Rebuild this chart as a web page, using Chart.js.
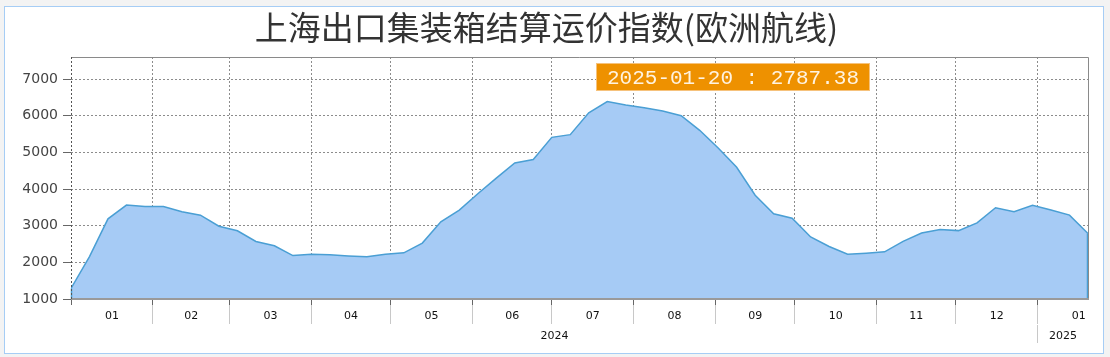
<!DOCTYPE html>
<html>
<head>
<meta charset="utf-8">
<script src="https://cdn.jsdelivr.net/npm/chart.js@4.4.1/dist/chart.umd.min.js"></script>
<style>
    body { margin: 0; background: #f3f3f3; }
    #caja {
        position: absolute; left: 4px; top: 6px;
        width: 1098px; height: 346px;
        border: 1px solid #a6cdf5; background: #fff;
    }
</style>
</head>
<body>
<div id="caja"><canvas id="grafico"></canvas></div>
<script>
// Datos semanales (lunes)
const fechas = [
    '2024-01-01', '2024-01-08', '2024-01-15', '2024-01-22', '2024-01-29',
    '2024-02-05', '2024-02-12', '2024-02-19', '2024-02-26',
    '2024-03-04', '2024-03-11', '2024-03-18', '2024-03-25',
    '2024-04-01', '2024-04-08', '2024-04-15', '2024-04-22', '2024-04-29',
    '2024-05-06', '2024-05-13', '2024-05-20', '2024-05-27',
    '2024-06-03', '2024-06-10', '2024-06-17', '2024-06-24',
    '2024-07-01', '2024-07-08', '2024-07-15', '2024-07-22', '2024-07-29',
    '2024-08-05', '2024-08-12', '2024-08-19', '2024-08-26',
    '2024-09-02', '2024-09-09', '2024-09-16', '2024-09-23', '2024-09-30',
    '2024-10-07', '2024-10-14', '2024-10-21', '2024-10-28',
    '2024-11-04', '2024-11-11', '2024-11-18', '2024-11-25',
    '2024-12-02', '2024-12-09', '2024-12-16', '2024-12-23', '2024-12-30',
    '2025-01-06', '2025-01-13', '2025-01-20'
];
const indice = [
    1287, 2157, 3187, 3562, 3526,
    3520, 3380, 3287, 2984,
    2860, 2570, 2452, 2185,
    2223, 2205, 2175, 2150, 2220,
    2260, 2526, 3105, 3425,
    3870, 4298, 4711, 4802,
    5408, 5482, 6080, 6383, 6290,
    6218, 6125, 6000, 5600,
    5116, 4592, 3830, 3325, 3204,
    2691, 2433, 2223, 2250,
    2287, 2570, 2800, 2893,
    2865, 3077, 3490, 3380, 3554,
    3425, 3287, 2787.38
];
const inicioMeses = [
    '2024-01-01', '2024-02-01', '2024-03-01', '2024-04-01', '2024-05-01', '2024-06-01',
    '2024-07-01', '2024-08-01', '2024-09-01', '2024-10-01', '2024-11-01', '2024-12-01',
    '2025-01-01', '2025-02-01'
];
const etiquetasMes = ['01', '02', '03', '04', '05', '06', '07', '08', '09', '10', '11', '12', '01'];
const etiquetasAnio = ['2024', '2025'];
const ticksY = [1000, 2000, 3000, 4000, 5000, 6000, 7000];
const titulo = '上海出口集装箱结算运价指数(欧洲航线)';

// días desde el 1 de enero de 2024
function dia(f) {
    const [a, m, d] = f.split('-').map(Number);
    return (Date.UTC(a, m - 1, d) - Date.UTC(2024, 0, 1)) / 86400000;
}

const puntos = fechas.map((f, i) => ({ x: dia(f), y: indice[i] }));
const diaFin = dia(fechas[fechas.length - 1]);
const diasMes = inicioMeses.map(dia);
const finDeAnio = dia('2025-01-01');

const ultimoTexto = `${fechas[fechas.length - 1]} : ${indice[indice.length - 1]}`;

// --- plugins ---
const bordes = {
    id: 'bordes',
    afterDatasetsDraw(chart) {
        const { ctx, chartArea: a } = chart;
        const meta = chart.getDatasetMeta(0);
        const p0 = meta.data[0], pN = meta.data[meta.data.length - 1];
        ctx.save();
        // lados verticales del área rellena
        ctx.strokeStyle = '#4a9fd4';
        ctx.lineWidth = 1.5;
        ctx.beginPath();
        ctx.moveTo(p0.x + 0.5, p0.y); ctx.lineTo(p0.x + 0.5, a.bottom);
        ctx.moveTo(pN.x - 0.5, pN.y); ctx.lineTo(pN.x - 0.5, a.bottom);
        ctx.stroke();
        // marco
        ctx.lineWidth = 1;
        ctx.strokeStyle = '#8a8a8a';
        ctx.beginPath();
        ctx.moveTo(a.left, a.top + 0.5); ctx.lineTo(a.right + 0.5, a.top + 0.5);
        ctx.lineTo(a.right + 0.5, a.bottom);
        ctx.stroke();
        ctx.strokeStyle = '#9a9a9a';
        ctx.lineWidth = 2;
        ctx.beginPath();
        ctx.moveTo(a.left, a.bottom); ctx.lineTo(a.right + 1, a.bottom);
        ctx.stroke();
        ctx.strokeStyle = '#555';
        ctx.lineWidth = 1;
        ctx.setLineDash([2, 2]);
        ctx.beginPath();
        ctx.moveTo(a.left + 0.5, a.top); ctx.lineTo(a.left + 0.5, a.bottom);
        ctx.stroke();
        ctx.restore();
    }
};

const etiqueta = {
    id: 'etiqueta',
    afterDraw(chart) {
        const { ctx, chartArea: a } = chart;
        const x = a.left + 525, y = a.top + 6, w = 274, h = 28;
        ctx.save();
        ctx.fillStyle = '#ee9100';
        ctx.fillRect(x, y, w, h);
        ctx.strokeStyle = '#f6c27c';
        ctx.strokeRect(x + 0.5, y + 0.5, w - 1, h - 1);
        ctx.fillStyle = '#fff3e0';
        ctx.font = '21px "Liberation Mono"';
        ctx.textAlign = 'center';
        ctx.textBaseline = 'middle';
        ctx.fillText(ultimoTexto, x + w / 2, y + h / 2 + 1);
        ctx.restore();
    }
};

const ctx = document.getElementById('grafico').getContext('2d');
new Chart(ctx, {
    type: 'line',
    data: {
        datasets: [{
            data: puntos,
            borderColor: '#4a9fd4',
            borderWidth: 1.5,
            backgroundColor: '#a6cbf5',
            fill: 'start',
            pointRadius: 0,
            tension: 0
        }]
    },
    options: {
        responsive: true,
        maintainAspectRatio: false,
        animation: false,
        layout: { padding: { left: 0, right: 15, top: 0, bottom: 6 } },
        plugins: {
            legend: { display: false },
            tooltip: { enabled: false },
            title: {
                display: true,
                text: titulo,
                color: '#333',
                font: { family: '"Noto Sans CJK SC"', size: 33, weight: 'normal', lineHeight: 1 },
                padding: { top: 4, bottom: 13 }
            }
        },
        scales: {
            x: {
                type: 'linear',
                position: 'bottom',
                min: 0,
                max: diaFin,
                afterBuildTicks: s => { s.ticks = diasMes.filter(d => d <= diaFin).map(v => ({ value: v })); },
                afterFit: s => { s.height = 6; },
                grid: {
                    color: '#8c8c8c',
                    tickColor: '#666',
                    tickBorderDash: [],
                    tickLength: 6
                },
                border: { display: false, dash: [2, 2] },
                ticks: { display: false }
            },
            xm: {
                type: 'linear',
                position: 'bottom',
                min: 0,
                max: diaFin,
                afterBuildTicks: s => {
                    const t = [];
                    diasMes.forEach((d, i) => {
                        if (d > 0 && d <= diaFin) t.push({ value: d, sep: true, txt: '' });
                        if (i < etiquetasMes.length) t.push({ value: (d + diasMes[i + 1]) / 2, txt: etiquetasMes[i] });
                    });
                    s.ticks = t;
                },
                afterFit: s => { s.height = 20; },
                grid: {
                    drawOnChartArea: false,
                    tickLength: 19,
                    color: c => (c.tick && c.tick.sep) ? '#c8c8c8' : 'rgba(0,0,0,0)'
                },
                border: { display: false },
                ticks: {
                    autoSkip: false,
                    maxRotation: 0,
                    padding: -14,
                    color: '#111',
                    font: { family: '"DejaVu Sans"', size: 11 },
                    callback: (v, i, t) => t[i].txt
                }
            },
            xy: {
                type: 'linear',
                position: 'bottom',
                min: 0,
                max: diaFin,
                afterBuildTicks: s => {
                    s.ticks = [
                        { value: finDeAnio / 2, txt: etiquetasAnio[0] },
                        { value: finDeAnio, sep: true, txt: '' },
                        { value: (finDeAnio + diaFin) / 2, txt: etiquetasAnio[1] }
                    ];
                },
                afterFit: s => { s.height = 22; },
                grid: {
                    drawOnChartArea: false,
                    tickLength: 18,
                    color: c => (c.tick && c.tick.sep) ? '#c8c8c8' : 'rgba(0,0,0,0)'
                },
                border: { display: false },
                ticks: {
                    autoSkip: false,
                    maxRotation: 0,
                    padding: -13,
                    color: '#111',
                    font: { family: '"DejaVu Sans"', size: 11 },
                    callback: (v, i, t) => t[i].txt
                }
            },
            y: {
                min: 1000,
                max: 7600,
                afterBuildTicks: s => { s.ticks = ticksY.map(v => ({ value: v })); },
                afterFit: s => { s.width = 66; },
                grid: {
                    color: '#8c8c8c',
                    tickColor: '#666',
                    tickBorderDash: [],
                    tickLength: 8
                },
                border: { display: false, dash: [2, 2] },
                ticks: {
                    padding: 5,
                    color: '#444',
                    font: { family: '"DejaVu Sans"', size: 14 },
                    callback: v => String(v)
                }
            }
        }
    },
    plugins: [bordes, etiqueta]
});
</script>
</body>
</html>
